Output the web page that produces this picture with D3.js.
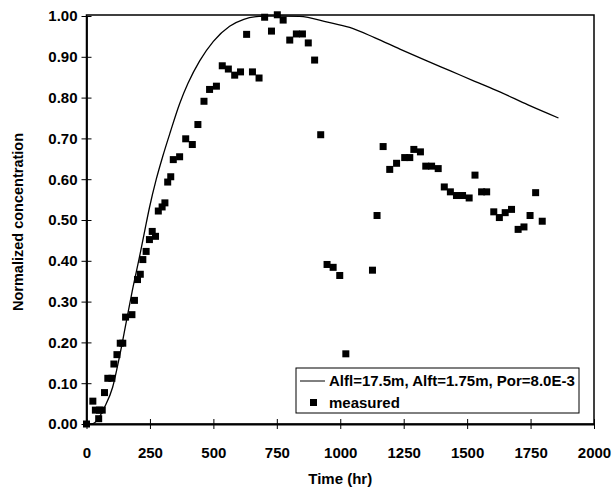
<!DOCTYPE html>
<html><head><meta charset="utf-8">
<script src="https://cdn.jsdelivr.net/npm/d3@7"></script>
<style>
html,body{margin:0;padding:0;background:#fff;}
svg text{font-family:"Liberation Sans",Arial,sans-serif;font-weight:bold;fill:#000;}
</style></head>
<body><svg id="c" width="615" height="498"></svg>
<script>
// measured data (time hr, normalized concentration)
const measuredTime = [0,25,35,48,51,62,71,84,100,108,120,133,143,154,179,189,201,212,222,235,248,259,272,283,298,309,320,332,342,367,391,417,439,463,485,512,535,559,584,607,631,654,680,702,729,752,775,801,827,851,874,899,923,948,972,998,1022,1127,1145,1169,1195,1222,1254,1274,1290,1316,1337,1360,1386,1410,1434,1458,1482,1508,1531,1557,1577,1605,1627,1650,1675,1701,1724,1748,1770,1796];
const measuredConc = [0,0.056,0.034,0.013,0.034,0.034,0.077,0.112,0.112,0.147,0.170,0.198,0.198,0.262,0.268,0.303,0.354,0.367,0.403,0.423,0.452,0.472,0.460,0.522,0.532,0.542,0.593,0.606,0.648,0.655,0.699,0.685,0.734,0.791,0.820,0.828,0.878,0.870,0.855,0.863,0.955,0.863,0.848,0.997,0.963,1.003,0.990,0.941,0.956,0.956,0.934,0.892,0.709,0.391,0.384,0.364,0.172,0.377,0.511,0.680,0.624,0.639,0.653,0.653,0.673,0.667,0.632,0.632,0.626,0.581,0.569,0.560,0.560,0.554,0.610,0.569,0.569,0.520,0.506,0.518,0.526,0.477,0.483,0.511,0.567,0.497];
// model curve
const modelTime = [0,20,43,70,103,130,156,180,209,230,248,275,300,330,367,400,446,500,564,620,680,720,760,840,950,1037,1135,1235,1330,1432,1530,1629,1740,1860];
const modelConc = [0,0,0.01,0.04,0.09,0.165,0.248,0.325,0.41,0.475,0.53,0.6,0.655,0.715,0.785,0.835,0.89,0.938,0.975,0.992,0.999,1.0,1.0,0.999,0.985,0.972,0.947,0.919,0.893,0.866,0.840,0.814,0.782,0.750];
const xTicks = [0,250,500,750,1000,1250,1500,1750,2000];
const yTicks = [0,0.1,0.2,0.3,0.4,0.5,0.6,0.7,0.8,0.9,1.0];
const legendLabels = ["Alfl=17.5m, Alft=1.75m, Por=8.0E-3","measured"];
const xTitle = "Time (hr)", yTitle = "Normalized concentration";

const svg = d3.select("#c");
const L=86.5, R=594, T=16, B=424;
const x = d3.scaleLinear().domain([0,2000]).range([L,R]);
const y = d3.scaleLinear().domain([0,1]).range([B,T]);

// frame
svg.append("rect").attr("x",L).attr("y",T-1).attr("width",R-L).attr("height",B-T+1)
  .attr("fill","none").attr("stroke","#000").attr("stroke-width",1.5);

// axes
const xa = svg.append("g").attr("transform",`translate(0,${B})`)
  .call(d3.axisBottom(x).tickValues(xTicks).tickSizeInner(5).tickSizeOuter(0).tickPadding(18).tickFormat(d3.format("d")));
xa.select(".domain").attr("stroke-width",1.8);
xa.selectAll(".tick line").attr("y1",-5).attr("stroke-width",1);
xa.selectAll("text").attr("font-size",15);

const ya = svg.append("g").attr("transform",`translate(${L},0)`)
  .call(d3.axisLeft(y).tickValues(yTicks).tickSizeInner(5).tickSizeOuter(0).tickPadding(4).tickFormat(d3.format(".2f")));
ya.select(".domain").attr("stroke-width",1.8);
ya.selectAll(".tick line").attr("x1",5).attr("stroke-width",1);
ya.selectAll("text").attr("font-size",15);
svg.selectAll(".tick text").style("font-family","'Liberation Sans',Arial,sans-serif").style("font-weight","bold");

// titles
svg.append("text").attr("x",(L+R)/2).attr("y",484).attr("text-anchor","middle").attr("font-size",15).text(xTitle);
svg.append("text").attr("transform",`translate(23,${222}) rotate(-90)`).attr("text-anchor","middle").attr("font-size",14.5).text(yTitle);

// model line
const modelData = modelTime.map((t,i)=>[t,modelConc[i]]);
svg.append("path").datum(modelData)
  .attr("fill","none").attr("stroke","#000").attr("stroke-width",1.3)
  .attr("d",d3.line().x(d=>x(d[0])).y(d=>y(d[1])).curve(d3.curveMonotoneX));

// measured squares
const ms = 7;
svg.append("g").selectAll("rect").data(measuredTime.map((t,i)=>[t,measuredConc[i]])).join("rect")
  .attr("x",d=>x(d[0])-ms/2).attr("y",d=>y(d[1])-ms/2).attr("width",ms).attr("height",ms).attr("fill","#000");

// legend
const lg = svg.append("g");
lg.append("rect").attr("x",296).attr("y",368).attr("width",283).attr("height",45).attr("fill","#fff").attr("stroke","#000").attr("stroke-width",1);
lg.append("line").attr("x1",300).attr("x2",325).attr("y1",381).attr("y2",381).attr("stroke","#000").attr("stroke-width",1);
lg.append("text").attr("x",329).attr("y",386).attr("font-size",15).text(legendLabels[0]);
lg.append("rect").attr("x",310).attr("y",399).attr("width",7).attr("height",7).attr("fill","#000");
lg.append("text").attr("x",329).attr("y",408).attr("font-size",15).text(legendLabels[1]);
</script></body></html>
